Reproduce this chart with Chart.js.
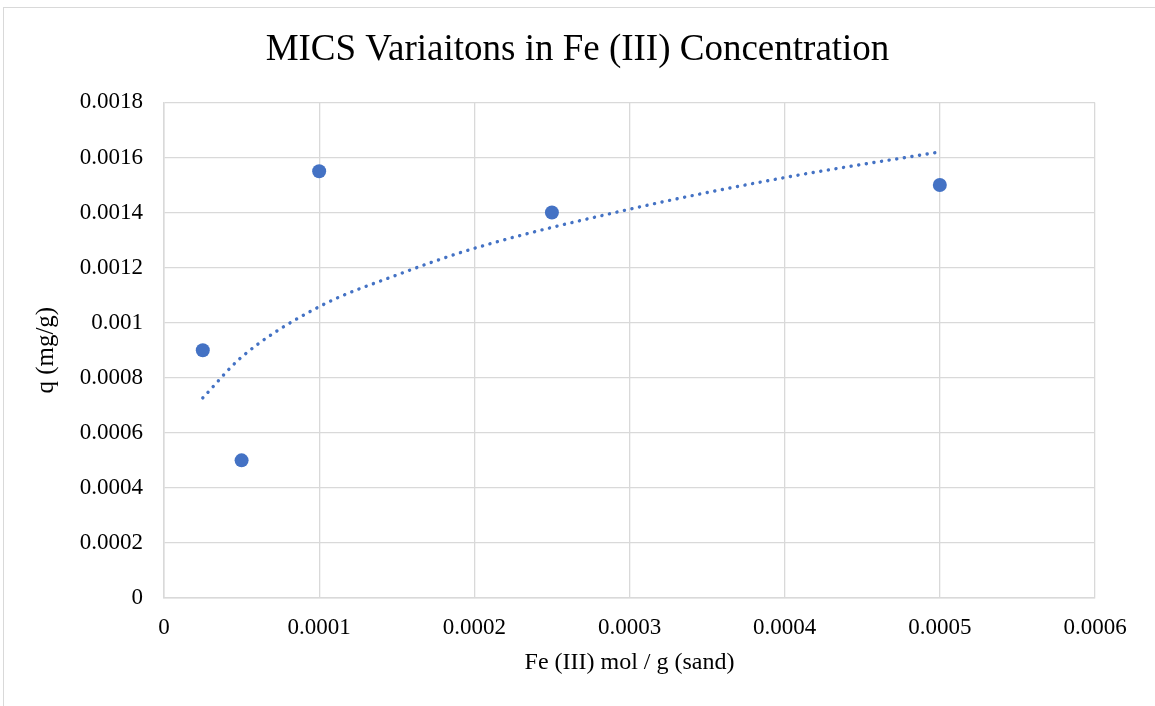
<!DOCTYPE html>
<html>
<head>
<meta charset="utf-8">
<script src="https://cdn.jsdelivr.net/npm/chart.js@4/dist/chart.umd.min.js"></script>
<style>
  html, body { margin: 0; padding: 0; background: #ffffff; }
  #wrap { position: relative; width: 1155px; height: 706px; overflow: hidden; background: #ffffff; }
  #frame { position: absolute; left: 3px; top: 7px; width: 1200px; height: 800px; border: 1.5px solid #d9d9d9; box-sizing: border-box; }
  canvas { position: absolute; left: 0; top: 0; }
</style>
</head>
<body>
<div id="wrap">
  <div id="frame"></div>
  <canvas id="c" width="1155" height="706"></canvas>
</div>
<script>
// Measured points
const feConcentration = [0.000025, 0.00005, 0.0001, 0.00025, 0.0005];
const qValues = [0.0009, 0.0005, 0.00155, 0.0014, 0.0015];

// Trendline (dotted)
const trendX = [0.000025, 0.00005, 0.0001, 0.00015, 0.0002, 0.0003, 0.0004, 0.0005];
const trendY = [0.000727, 0.000875, 0.001058, 0.001173, 0.00127, 0.001412, 0.001527, 0.00162];

// Tick labels
const yTickLabels = ['0', '0.0002', '0.0004', '0.0006', '0.0008', '0.001', '0.0012', '0.0014', '0.0016', '0.0018'];
const xTickLabels = ['0', '0.0001', '0.0002', '0.0003', '0.0004', '0.0005', '0.0006'];

const titleText = 'MICS Variaitons in Fe (III) Concentration';
const xTitle = 'Fe (III) mol / g (sand)';
const yTitle = 'q (mg/g)';

const serif = "'Liberation Serif', 'Times New Roman', serif";
const blue = '#4472C4';
const gridCol = '#d9d9d9';

const scatterData = feConcentration.map((x, i) => ({ x: x, y: qValues[i] }));
const trendData = trendX.map((x, i) => ({ x: x, y: trendY[i] }));

new Chart(document.getElementById('c'), {
  type: 'scatter',
  data: {
    datasets: [
      {
        label: 'trend',
        data: trendData,
        showLine: true,
        borderColor: blue,
        borderWidth: 3.4,
        borderDash: [0.1, 7.6],
        borderCapStyle: 'round',
        pointRadius: 0,
        pointHoverRadius: 0,
        cubicInterpolationMode: 'monotone',
        fill: false,
        order: 2
      },
      {
        label: 'q',
        data: scatterData,
        backgroundColor: blue,
        borderColor: blue,
        pointRadius: 7,
        pointBorderWidth: 0,
        order: 1
      }
    ]
  },
  options: {
    responsive: false,
    devicePixelRatio: 1,
    animation: false,
    layout: { padding: { left: 0, right: 0, top: 0, bottom: 0 } },
    plugins: {
      legend: { display: false },
      tooltip: { enabled: false },
      title: {
        display: true,
        text: titleText,
        color: '#000000',
        font: { family: serif, size: 37, weight: 'normal', lineHeight: 1.2 },
        padding: { top: 28, bottom: 30 }
      }
    },
    scales: {
      x: {
        type: 'linear',
        min: 0,
        max: 0.0006,
        afterFit: (s) => { s.height = 108; },
        afterBuildTicks: (s) => { s.ticks = xTickLabels.map((t, i) => ({ value: i * 0.0001 })); },
        ticks: {
          color: '#000000',
          font: { family: serif, size: 23 },
          padding: 16,
          maxRotation: 0,
          autoSkip: false,
          callback: (v, i) => xTickLabels[i]
        },
        grid: { color: gridCol, lineWidth: 1.3, drawTicks: false },
        border: { color: gridCol, width: 1.5 },
        title: {
          display: true,
          text: xTitle,
          color: '#000000',
          font: { family: serif, size: 24, lineHeight: 1.2 },
          padding: { top: 0, bottom: 29 }
        }
      },
      y: {
        type: 'linear',
        min: 0,
        max: 0.0018,
        afterFit: (s) => { s.width = 164; },
        afterBuildTicks: (s) => { s.ticks = yTickLabels.map((t, i) => ({ value: i * 0.0002 })); },
        ticks: {
          color: '#000000',
          font: { family: serif, size: 23 },
          padding: 21,
          autoSkip: false,
          callback: (v, i) => yTickLabels[i]
        },
        grid: { color: gridCol, lineWidth: 1.3, drawTicks: false },
        border: { color: gridCol, width: 1.5 },
        title: {
          display: true,
          text: yTitle,
          color: '#000000',
          font: { family: serif, size: 25, lineHeight: 1.2 },
          padding: { top: 31, bottom: 0 }
        }
      },
      spacer: {
        type: 'linear',
        position: 'right',
        display: true,
        afterFit: (s) => { s.width = 60; },
        ticks: { display: false },
        grid: { display: false, drawOnChartArea: false, drawTicks: false },
        border: { display: false }
      }
    }
  }
});
</script>
</body>
</html>
